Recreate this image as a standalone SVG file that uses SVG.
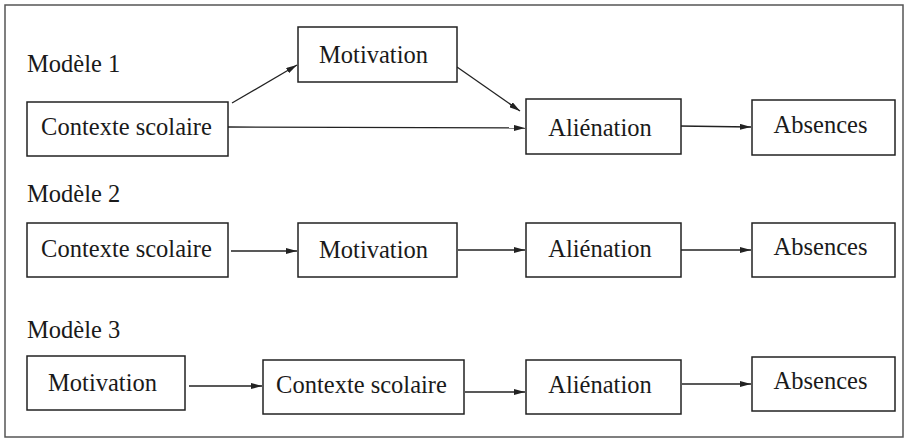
<svg xmlns="http://www.w3.org/2000/svg" width="908" height="440" viewBox="0 0 908 440">
<style>
.box{fill:#fff;stroke:#222;stroke-width:1.5}
.t{font-family:"Liberation Serif","Times New Roman",serif;font-size:24.5px;fill:#1a1a1a;text-anchor:middle}
.lbl{font-family:"Liberation Serif","Times New Roman",serif;font-size:24.5px;fill:#1a1a1a}
.c{fill:none;stroke:#222;stroke-width:1.3;marker-end:url(#ah)}
</style>
<defs>
<marker id="ah" viewBox="0 0 11 6" refX="11" refY="3" markerWidth="11" markerHeight="6" markerUnits="userSpaceOnUse" orient="auto">
<path d="M0,0 L11,3 L0,6 Z" fill="#222"/>
</marker>
</defs>
<rect x="5" y="5" width="898" height="432" fill="#fff" stroke="#555" stroke-width="1.5"/>
<text class="lbl" x="27" y="72">Modèle 1</text>
<text class="lbl" x="27" y="202">Modèle 2</text>
<text class="lbl" x="27" y="338">Modèle 3</text>
<g id="connectors">
<line class="c" x1="232" y1="103" x2="297" y2="65"/>
<line class="c" x1="457" y1="67" x2="520" y2="111"/>
<line class="c" x1="228" y1="127" x2="525" y2="128"/>
<line class="c" x1="679" y1="126" x2="751" y2="127"/>
<line class="c" x1="231" y1="251" x2="297" y2="251"/>
<line class="c" x1="458" y1="250" x2="525" y2="250"/>
<line class="c" x1="681" y1="250" x2="751" y2="250"/>
<line class="c" x1="189" y1="386" x2="262" y2="386"/>
<line class="c" x1="465" y1="392" x2="525" y2="392"/>
<line class="c" x1="682" y1="384" x2="751" y2="384"/>
</g>
<g id="m1-contexte"><rect class="box" x="27" y="102" width="201" height="54"/><text class="t" x="126.5" y="135">Contexte scolaire</text></g>
<g id="m1-motivation"><rect class="box" x="298" y="27" width="159" height="55"/><text class="t" x="373.5" y="63">Motivation</text></g>
<g id="m1-alienation"><rect class="box" x="526" y="99" width="155" height="55"/><text class="t" x="600" y="136">Aliénation</text></g>
<g id="m1-absences"><rect class="box" x="752" y="100" width="143" height="55"/><text class="t" x="820.5" y="133">Absences</text></g>
<g id="m2-contexte"><rect class="box" x="27" y="223" width="201" height="54"/><text class="t" x="126.5" y="257">Contexte scolaire</text></g>
<g id="m2-motivation"><rect class="box" x="298" y="223" width="159" height="54"/><text class="t" x="373.5" y="258">Motivation</text></g>
<g id="m2-alienation"><rect class="box" x="526" y="223" width="155" height="54"/><text class="t" x="600" y="257">Aliénation</text></g>
<g id="m2-absences"><rect class="box" x="752" y="223" width="143" height="54"/><text class="t" x="820.5" y="255">Absences</text></g>
<g id="m3-motivation"><rect class="box" x="27" y="356" width="158" height="54"/><text class="t" x="102.5" y="391">Motivation</text></g>
<g id="m3-contexte"><rect class="box" x="263" y="360" width="201" height="54"/><text class="t" x="361.5" y="393">Contexte scolaire</text></g>
<g id="m3-alienation"><rect class="box" x="526" y="360" width="155" height="54"/><text class="t" x="600" y="393">Aliénation</text></g>
<g id="m3-absences"><rect class="box" x="752" y="357" width="143" height="54"/><text class="t" x="820.5" y="389">Absences</text></g>
</svg>
